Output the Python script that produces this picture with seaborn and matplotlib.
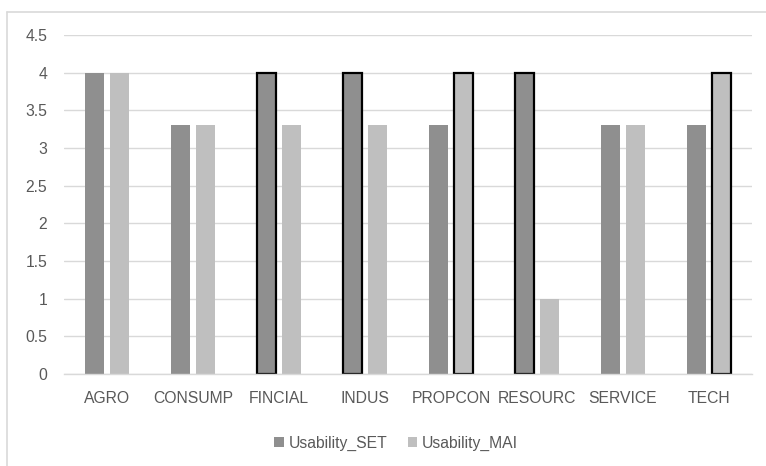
import matplotlib
matplotlib.use("Agg")
import matplotlib.pyplot as plt
from matplotlib.lines import Line2D
import seaborn as sns
import pandas as pd

sectors = ["AGRO", "CONSUMP", "FINCIAL", "INDUS", "PROPCON", "RESOURC", "SERVICE", "TECH"]
usability_set = [4, 3.3, 4, 4, 3.3, 4, 3.3, 3.3]
usability_mai = [4, 3.3, 3.3, 3.3, 4, 1, 3.3, 4]
series_names = ["Usability_SET", "Usability_MAI"]

sns.set_theme(style="white")
plt.rcParams['font.family'] = ['Liberation Sans', 'DejaVu Sans']

df = pd.DataFrame({
    "Sector": sectors * 2,
    "Value": usability_set + usability_mai,
    "Series": [series_names[0]] * len(sectors) + [series_names[1]] * len(sectors),
})

fig = plt.figure(figsize=(7.66, 4.66), dpi=100)
ax = fig.add_axes([64 / 766, 1 - 374 / 466, (752 - 64) / 766, (374 - 35) / 466])

sns.barplot(
    data=df, x="Sector", y="Value", hue="Series",
    palette=["#8f8f8f", "#bfbfbf"], width=0.58, gap=0.24,
    linewidth=0, saturation=1, ax=ax, legend=True,
)

# outline the higher bar where the two series differ
n = len(sectors)
bars = [p for p in ax.patches if p.get_height() > 0][:2 * n]
for i in range(n):
    a, b = usability_set[i], usability_mai[i]
    if a != b:
        p = bars[i] if a > b else bars[n + i]
        p.set_edgecolor("black")
        p.set_linewidth(1.6)

ax.set_ylim(0, 4.5)
ax.set_xlim(-0.5, n - 0.5)
ax.set_yticks([0, 0.5, 1, 1.5, 2, 2.5, 3, 3.5, 4, 4.5])
ax.set_yticklabels(["0", "0.5", "1", "1.5", "2", "2.5", "3", "3.5", "4", "4.5"])
ax.yaxis.grid(True, color="#d9d9d9", linewidth=1)
ax.set_axisbelow(True)
for s in ["top", "right", "left"]:
    ax.spines[s].set_visible(False)
ax.spines["bottom"].set_color("#d9d9d9")
ax.spines["bottom"].set_linewidth(1)
ax.tick_params(axis="x", length=0, pad=12, labelsize=11.3, labelcolor="#595959")
ax.tick_params(axis="y", length=0, pad=12, labelsize=11.3, labelcolor="#595959")
ax.set_xlabel("")
ax.set_ylabel("")

handles, labels = ax.get_legend_handles_labels()
ax.get_legend().remove()
fig.legend(handles, labels, loc="center", bbox_to_anchor=(396 / 766, 1 - 443 / 466),
           ncol=2, frameon=False, fontsize=11.3, labelcolor="#595959",
           handlelength=0.6, handleheight=0.6, handletextpad=0.3, columnspacing=1.3)

# chart border
fig.add_artist(Line2D([7 / 766, 7 / 766], [0, 1 - 12 / 466], color="#d9d9d9", linewidth=1.2))
fig.add_artist(Line2D([7 / 766, 1], [1 - 12 / 466, 1 - 12 / 466], color="#d9d9d9", linewidth=1.2))

fig.savefig("out.png", dpi=100)
